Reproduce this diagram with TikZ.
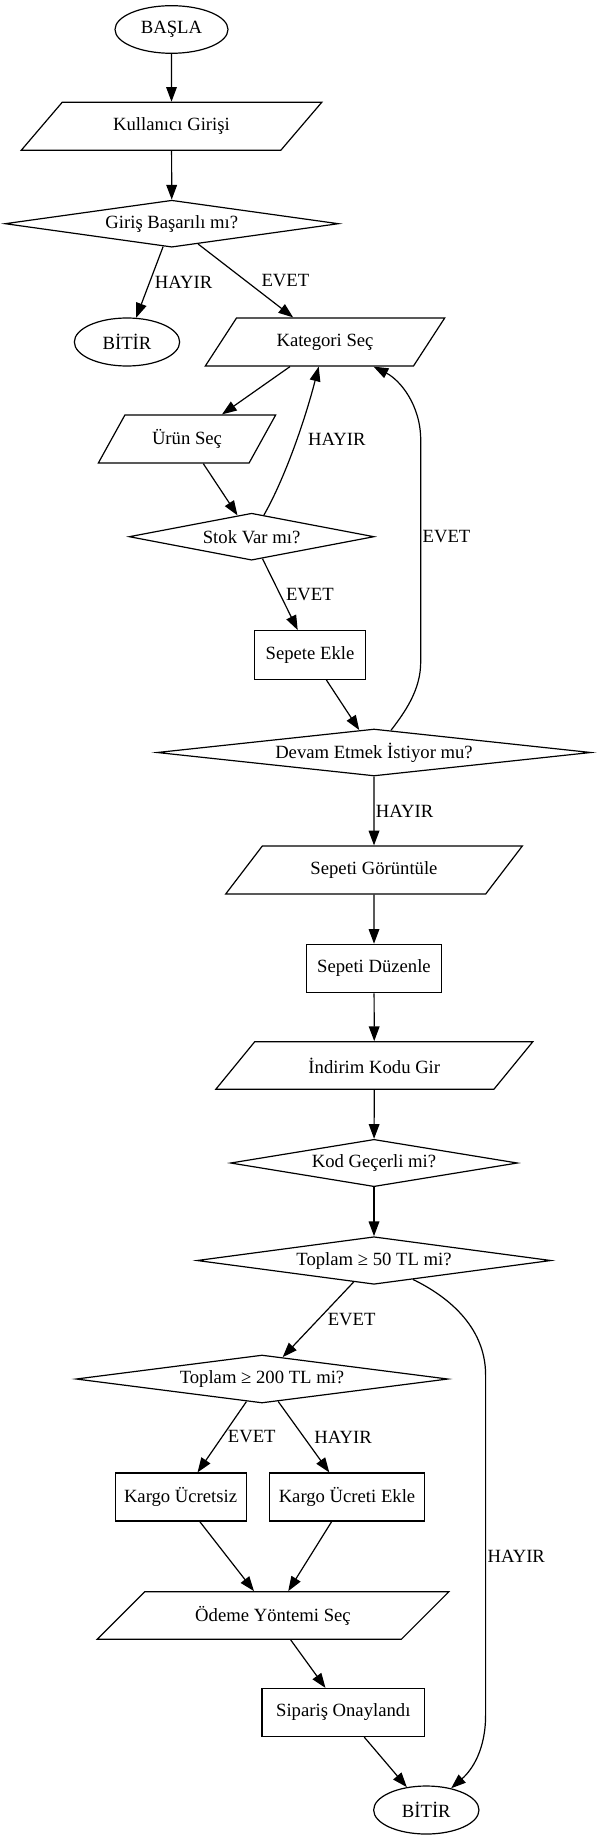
\documentclass[tikz,border=0pt]{standalone}
\usepackage{fontspec}
\setmainfont{Liberation Serif}
\usetikzlibrary{shapes.geometric,arrows.meta}

\begin{document}
\begin{tikzpicture}[
    x=0.75pt, y=-0.75pt,
    every node/.style={font=\fontsize{14pt}{16pt}\selectfont},
    term/.style={ellipse, draw, line width=0.9pt, inner sep=0pt, minimum width=79pt, minimum height=36pt},
    io/.style 2 args={trapezium, trapezium left angle=#1, trapezium right angle=#2, trapezium stretches=true, draw, line width=0.9pt, inner sep=0pt, minimum height=36pt},
    decision/.style={diamond, aspect=8, draw, line width=0.9pt, inner sep=0pt, minimum height=35.25pt},
    process/.style={rectangle, draw, line width=0.9pt, inner sep=0pt, minimum height=36pt},
    flow/.style={-{Triangle[length=11pt,width=8pt]}, line width=0.9pt},
    lbl/.style={right, inner sep=1pt}
]
\useasboundingbox (0,0) rectangle (596,1840);

\node[term, minimum width=84.75pt, minimum height=35.7pt] (basla) at (171.5,29.5) {BAŞLA};
\node[io={37.75}{142.25}, minimum width=225.75pt] (giris) at (171.5,126.3) {Kullanıcı Girişi};
\node[decision, minimum width=250.2pt] (basarili) at (171.8,223.7) {Giriş Başarılı mı?};
\node[term] (bitir1) at (127,342) {BİTİR};
\node[io={43.8}{136.2}, minimum width=180.75pt] (kategori) at (325,342) {Kategori Seç};
\node[io={51.9}{128.1}, minimum width=133.5pt] (urun) at (187,439) {Ürün Seç};
\node[decision, minimum width=183.75pt] (stok) at (251.6,536.7) {Stok Var mı?};
\node[process, minimum width=83.25pt, minimum height=36.5pt] (sepete) at (310,655) {Sepete Ekle};
\node[decision, minimum width=325.5pt] (devam) at (374,752.5) {Devam Etmek İstiyor mu?};
\node[io={39.1}{140.9}, minimum width=222.5pt] (goruntule) at (374,870) {Sepeti Görüntüle};
\node[process, minimum width=101.25pt, minimum height=36.3pt] (duzenle) at (374,968.5) {Sepeti Düzenle};
\node[io={36}{144}, minimum width=238pt, minimum height=35.7pt] (indirim) at (374.3,1065.5) {İndirim Kodu Gir};
\node[decision, minimum width=215.25pt, minimum height=35.5pt] (kod) at (374,1163) {Kod Geçerli mi?};
\node[decision, minimum width=265.5pt, minimum height=35.7pt] (toplam50) at (374,1260.5) {Toplam ≥ 50 TL mi?};
\node[decision, minimum width=279pt, minimum height=36pt] (toplam200) at (262,1379) {Toplam ≥ 200 TL mi?};
\node[process, minimum width=98.25pt] (ucretsiz) at (180.6,1497) {Kargo Ücretsiz};
\node[process, minimum width=115.9pt] (ekle) at (347,1497) {Kargo Ücreti Ekle};
\node[io={33.5}{146.5}, minimum width=264.4pt, minimum height=35.7pt] (odeme) at (273,1615.5) {Ödeme Yöntemi Seç};
\node[process, minimum width=121.9pt] (siparis) at (343.3,1712.5) {Sipariş Onaylandı};
\node[term] (bitir2) at (426.3,1810) {BİTİR};

\draw[flow] (basla) -- (giris);
\draw[flow] (giris) -- (basarili);
\draw[flow] (basarili) -- node[lbl, xshift=2.5pt] {HAYIR} (bitir1);
\draw[flow] (basarili) -- node[lbl, xshift=10.5pt] {EVET} (kategori);
\draw[flow] (kategori) -- (urun);
\draw[flow] (urun) -- (stok);
\draw[flow] (stok) .. controls (285,478) and (305,420) .. node[lbl, pos=0.55, xshift=7pt] {HAYIR} (kategori);
\draw[flow] (stok) -- node[lbl, xshift=3pt] {EVET} (sepete);
\draw[flow] (sepete) -- (devam);
\draw[flow] (devam) .. controls (405,712) and (420.7,690) .. (420.7,662)
    -- node[lbl, pos=0.563] {EVET} (420.7,440)
    .. controls (420.7,405) and (400,380) .. (kategori);
\draw[flow] (devam) -- node[lbl] {HAYIR} (goruntule);
\draw[flow] (goruntule) -- (duzenle);
\draw[flow] (duzenle) -- (indirim);
\draw[flow] (indirim) -- (kod);
\draw[flow] (kod) -- (toplam50);
\draw[flow] (toplam50) -- node[lbl, xshift=5.8pt] {EVET} (toplam200);
\draw[flow] (toplam50) .. controls (445,1295) and (485.6,1325) .. (485.6,1375)
    -- node[lbl, pos=0.532] {HAYIR} (485.6,1715)
    .. controls (485.6,1750) and (472,1770) .. (bitir2);
\draw[flow] (toplam200) -- node[lbl, xshift=3pt] {EVET} (ucretsiz);
\draw[flow] (toplam200) -- node[lbl, xshift=6.5pt] {HAYIR} (ekle);
\draw[flow] (ucretsiz) -- (odeme);
\draw[flow] (ekle) -- (odeme);
\draw[flow] (odeme) -- (siparis);
\draw[flow] (siparis) -- (bitir2);

\end{tikzpicture}
\end{document}
